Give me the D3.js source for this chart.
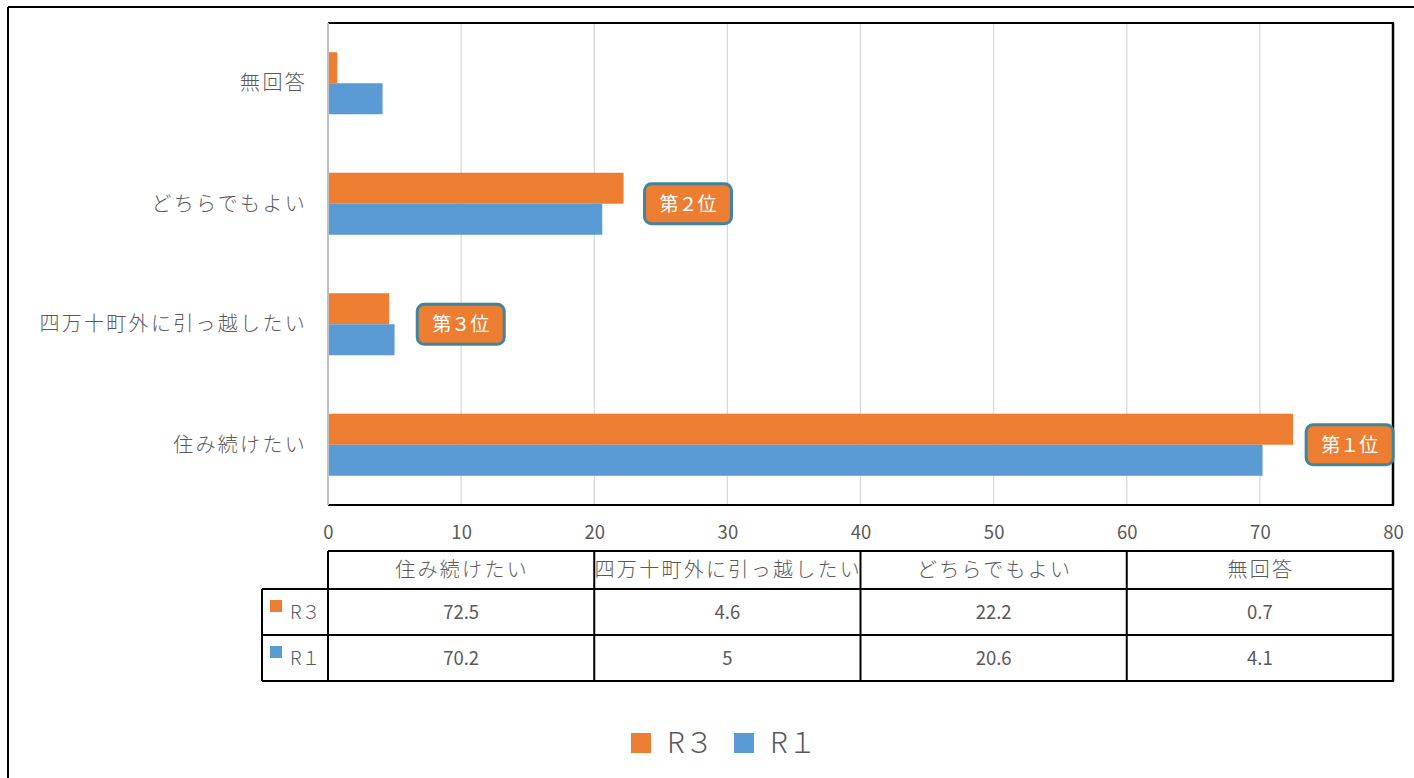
<!DOCTYPE html>
<html><head><meta charset="utf-8">
<script src="https://cdn.jsdelivr.net/npm/d3@7"></script>
<style>
body{margin:0;background:#fff;}
text{font-family:"Noto Sans CJK JP","Noto Sans",sans-serif;}
</style></head>
<body>
<svg id="c" width="1414" height="778"></svg>
<script>
const categories = ["住み続けたい","四万十町外に引っ越したい","どちらでもよい","無回答"];
const seriesNames = ["R３","R１"];
const r3Values = [72.5, 4.6, 22.2, 0.7];
const r1Values = [70.2, 5, 20.6, 4.1];
const r3Table = ["72.5","4.6","22.2","0.7"];
const r1Table = ["70.2","5","20.6","4.1"];
const rankLabels = ["第１位","第３位","第２位",null];
const xTicks = [0,10,20,30,40,50,60,70,80];

const colors = {"R３":"#ED7D31","R１":"#5B9BD5"};
const textGray = "#595959";
const svg = d3.select("#c");

// outer frame
svg.append("line").attr("x1",8).attr("x2",1414).attr("y1",7).attr("y2",7).attr("stroke","#000").attr("stroke-width",2);
svg.append("line").attr("x1",8).attr("x2",8).attr("y1",7).attr("y2",778).attr("stroke","#000").attr("stroke-width",2);

const L=328, R=1393, T=23, B=505;
const x = d3.scaleLinear().domain([0,80]).range([L,R]);
const yOrder = categories.slice().reverse();
const y = d3.scaleBand().domain(yOrder).range([T,B]).paddingInner(0.485).paddingOuter(0.2425);
const ySub = d3.scaleBand().domain(seriesNames).range([0,y.bandwidth()]);

// gridlines
svg.append("g").selectAll("line").data(xTicks.filter(d=>d>0 && d<80)).join("line")
  .attr("x1",d=>x(d)).attr("x2",d=>x(d)).attr("y1",T).attr("y2",B)
  .attr("stroke","#D9D9D9").attr("stroke-width",1.3);

// bars
const rows = categories.map((c,i)=>({cat:c, "R３":r3Values[i], "R１":r1Values[i]}));
const g = svg.append("g");
rows.forEach(r=>{
  seriesNames.forEach(s=>{
    g.append("rect").attr("x",x(0)).attr("y",y(r.cat)+ySub(s))
     .attr("width",x(r[s])-x(0)).attr("height",ySub.bandwidth()).attr("fill",colors[s]);
  });
});

// plot border
svg.append("line").attr("x1",L).attr("x2",R+1).attr("y1",T).attr("y2",T).attr("stroke","#000").attr("stroke-width",2);
svg.append("line").attr("x1",R).attr("x2",R).attr("y1",T).attr("y2",B).attr("stroke","#000").attr("stroke-width",2.5);
svg.append("line").attr("x1",L).attr("x2",R+1).attr("y1",B).attr("y2",B).attr("stroke","#000").attr("stroke-width",2);
svg.append("line").attr("x1",L).attr("x2",L).attr("y1",T).attr("y2",B).attr("stroke","#BFBFBF").attr("stroke-width",2);

// x axis labels
const xAxis = d3.axisBottom(x).tickValues(xTicks).tickSize(0).tickPadding(0);
const xa = svg.append("g").attr("transform",`translate(0,${B+34})`).call(xAxis);
xa.select(".domain").remove();
xa.selectAll("text").attr("fill",textGray).attr("font-size",18.5).attr("font-weight",400)
  .attr("font-family",'"Noto Sans CJK JP",sans-serif').attr("dy",0);

// y labels
const yAxis = d3.axisLeft(y).tickSize(0).tickPadding(0);
const ya = svg.append("g").attr("transform",`translate(${L-21},0)`).call(yAxis);
ya.select(".domain").remove();
ya.selectAll("text").attr("fill",textGray).attr("font-size",20).attr("font-weight",300)
  .attr("font-family",'"Noto Sans CJK JP",sans-serif')
  .attr("letter-spacing",2.3).attr("dy","0.35em");

// rank labels
categories.forEach((c,i)=>{
  if(!rankLabels[i]) return;
  const bx = x(r3Values[i]) + (i===0?13:(i===1?28:21));
  const cy = y(c)+y.bandwidth()/2;
  const w = 87, h = 40;
  svg.append("rect").attr("x",bx).attr("y",cy-h/2).attr("width",w).attr("height",h)
    .attr("rx",7).attr("fill","#ED7D31").attr("stroke","#41849E").attr("stroke-width",3);
  svg.append("text").attr("x",bx+w/2).attr("y",cy).attr("dy","0.36em").attr("text-anchor","middle")
    .attr("fill","#fff").attr("font-size",19).attr("font-weight",400).text(rankLabels[i]);
});

// data table
const colEdges = [0,20,40,60,80].map(v=>x(v));
const tTop=551, tH1=589, tH2=635, tBot=681, tLeft=262;
const tg = svg.append("g");
const ln=(x1,y1,x2,y2,w)=>tg.append("line").attr("x1",x1).attr("y1",y1).attr("x2",x2).attr("y2",y2).attr("stroke","#000").attr("stroke-width",w||2);
ln(L,tTop,R+1,tTop);
ln(tLeft,tH1,R+1,tH1);
ln(tLeft,tH2,R+1,tH2);
ln(tLeft,tBot,R+1,tBot);
ln(tLeft,tH1,tLeft,tBot);
colEdges.forEach(cx=>ln(cx,tTop,cx,tBot,cx===R?2.5:2));
categories.forEach((c,i)=>{
  const cx=(colEdges[i]+colEdges[i+1])/2;
  tg.append("text").attr("x",cx+1).attr("y",(tTop+tH1)/2).attr("dy","0.36em").attr("text-anchor","middle")
    .attr("fill",textGray).attr("font-size",20).attr("font-weight",300).attr("letter-spacing",2.3).text(c);
  tg.append("text").attr("x",cx).attr("y",(tH1+tH2)/2).attr("dy","0.36em").attr("text-anchor","middle")
    .attr("fill",textGray).attr("font-size",18.5).attr("font-weight",400).text(r3Table[i]);
  tg.append("text").attr("x",cx).attr("y",(tH2+tBot)/2).attr("dy","0.36em").attr("text-anchor","middle")
    .attr("fill",textGray).attr("font-size",18.5).attr("font-weight",400).text(r1Table[i]);
});
[[seriesNames[0],tH1,tH2],[seriesNames[1],tH2,tBot]].forEach(([s,a,b])=>{
  const cy=(a+b)/2;
  tg.append("rect").attr("x",270).attr("y",cy-12).attr("width",12).attr("height",12).attr("fill",colors[s]);
  tg.append("text").attr("x",290).attr("y",cy).attr("dy","0.36em").attr("fill",textGray).attr("font-size",19).attr("font-weight",300).text(s);
});

// legend
const lg = svg.append("g");
const legendItems=[{s:seriesNames[0],x:631},{s:seriesNames[1],x:734}];
legendItems.forEach(it=>{
  lg.append("rect").attr("x",it.x).attr("y",733).attr("width",20).attr("height",20).attr("fill",colors[it.s]);
  lg.append("text").attr("x",it.x+36).attr("y",743).attr("dy","0.36em").attr("fill",textGray).attr("font-size",29).attr("font-weight",300).text(it.s);
});
</script>
</body></html>
